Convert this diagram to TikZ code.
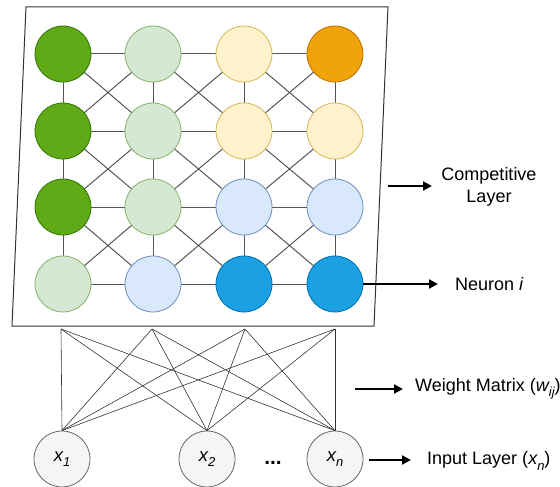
\documentclass[tikz,border=0pt]{standalone}
\usepackage{fontspec}
\setmainfont{Liberation Sans}
\usetikzlibrary{arrows.meta}

\definecolor{gDark}{HTML}{60A917}\definecolor{gDarkS}{HTML}{2D7600}
\definecolor{gLight}{HTML}{D5E8D4}\definecolor{gLightS}{HTML}{82B366}
\definecolor{yLight}{HTML}{FFF2CC}\definecolor{yLightS}{HTML}{D6B656}
\definecolor{oDark}{HTML}{F0A30A}\definecolor{oDarkS}{HTML}{BD7000}
\definecolor{bLight}{HTML}{DAE8FC}\definecolor{bLightS}{HTML}{6C8EBF}
\definecolor{bDark}{HTML}{1BA1E2}\definecolor{bDarkS}{HTML}{006EAF}
\definecolor{inFill}{HTML}{F5F5F5}\definecolor{inStroke}{HTML}{666666}
\definecolor{wire}{HTML}{555555}

\newcommand{\subtxt}[1]{\raisebox{-0.3em}{\fontsize{13}{13}\selectfont #1}}

\begin{document}
\begin{tikzpicture}[x=1pt,y=-1pt,
  neuron/.style={circle,minimum size=56pt,inner sep=0pt,line width=0.8pt},
  nDG/.style={neuron,fill=gDark,draw=gDarkS},
  nLG/.style={neuron,fill=gLight,draw=gLightS},
  nLY/.style={neuron,fill=yLight,draw=yLightS},
  nOR/.style={neuron,fill=oDark,draw=oDarkS},
  nLB/.style={neuron,fill=bLight,draw=bLightS},
  nDB/.style={neuron,fill=bDark,draw=bDarkS},
  inputnode/.style={neuron,fill=inFill,draw=inStroke,font=\fontsize{18.5}{20}\selectfont\itshape},
  link/.style={draw=wire,line width=1pt},
  weight/.style={draw=black!80,line width=0.6pt},
  pointer/.style={draw=black,line width=2pt,-{Triangle[length=9pt,width=9pt]}},
  caption/.style={font=\fontsize{18}{22}\selectfont,inner sep=0pt}
]
\useasboundingbox (0,0) rectangle (560,487);

% competitive layer frame
\draw[draw=black!80,line width=1pt] (26,7) -- (388,7) -- (374,326) -- (12,326) -- cycle;

% lattice positions
\foreach \c/\x in {1/63,2/153,3/244,4/335}
  \foreach \r/\y in {1/54,2/131,3/207,4/284}
    \coordinate (p\r\c) at (\x,\y);

% lattice links (drawn under the neurons)
\foreach \r in {1,...,4}
  \foreach \c/\d in {1/2,2/3,3/4}
    \draw[link] (p\r\c) -- (p\r\d);
\foreach \r/\s in {1/2,2/3,3/4}
  \foreach \c in {1,...,4}
    \draw[link] (p\r\c) -- (p\s\c);
\foreach \r/\s in {1/2,2/3,3/4}
  \foreach \c/\d in {1/2,2/3,3/4} {
    \draw[link] (p\r\c) -- (p\s\d);
    \draw[link] (p\r\d) -- (p\s\c);
  }

% neurons
\node[nDG] (n11) at (p11) {}; \node[nLG] (n12) at (p12) {};
\node[nLY] (n13) at (p13) {}; \node[nOR] (n14) at (p14) {};
\node[nDG] (n21) at (p21) {}; \node[nLG] (n22) at (p22) {};
\node[nLY] (n23) at (p23) {}; \node[nLY] (n24) at (p24) {};
\node[nDG] (n31) at (p31) {}; \node[nLG] (n32) at (p32) {};
\node[nLB] (n33) at (p33) {}; \node[nLB] (n34) at (p34) {};
\node[nLG] (n41) at (p41) {}; \node[nLB] (n42) at (p42) {};
\node[nDB] (n43) at (p43) {}; \node[nDB] (n44) at (p44) {};

% input layer
\node[inputnode] (x1) at (62,459) {x\subtxt{1}};
\node[inputnode] (x2) at (207,459) {x\subtxt{2}};
\node[inputnode] (xn) at (335,459) {x\subtxt{n}};
\node[font=\fontsize{21}{22}\selectfont\bfseries,inner sep=0pt] (dots) at (273,463) {...};

% weight connections from the lattice base to every input
\foreach \t/\x in {1/61,2/152,3/245,4/335}
  \coordinate (w\t) at (\x,329);
\foreach \t in {1,...,4}
  \foreach \i in {x1,x2,xn}
    \draw[weight] (w\t) -- (\i.north);

% captions and pointers
\coordinate (cA) at (388,186);
\node[caption,align=center] (lblComp) at (489,187) {Competitive\\Layer};
\draw[pointer] (cA) -- (432,186);

\node[caption,anchor=west] (lblNeuron) at (455,284) {Neuron \textit{i}};
\draw[pointer] (n44.east) -- (lblNeuron.west -| 438,0);

\coordinate (cW) at (355,389);
\node[caption,anchor=west] (lblWeight) at (415,389) {Weight Matrix (\textit{w\subtxt{ij}})};
\draw[pointer] (cW) -- (403,389);

\node[caption,anchor=west] (lblInput) at (427,461) {Input Layer (\textit{x\subtxt{n}})};
\draw[pointer] (xn.east) ++(6,1) coordinate (cI) (cI) -- (411,460);
\end{tikzpicture}
\end{document}
